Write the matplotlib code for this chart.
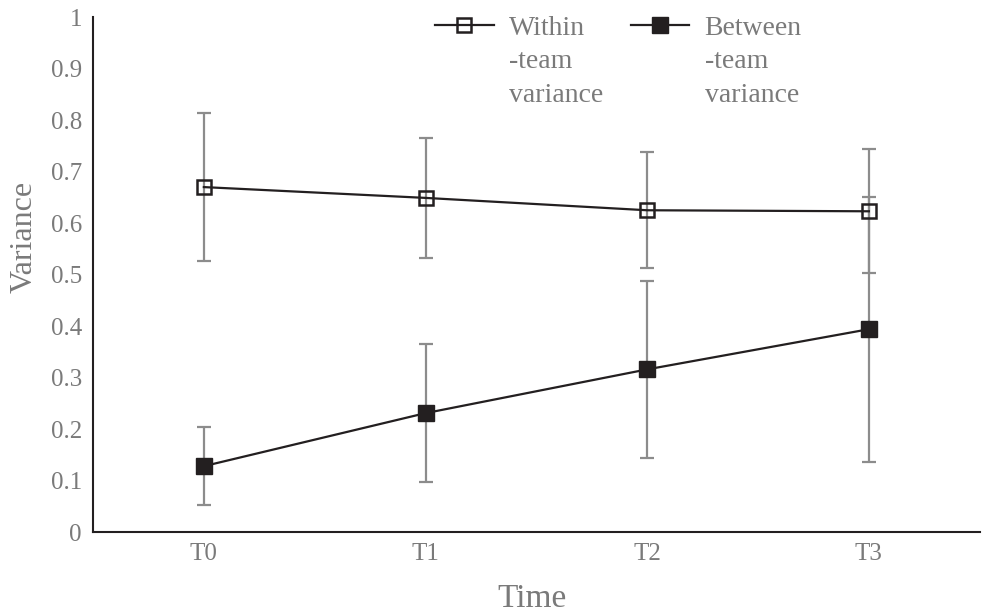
import matplotlib
matplotlib.use("Agg")
import matplotlib.pyplot as plt
import numpy as np

matplotlib.rcParams.update({
    "font.family": "serif",
    "font.serif": ["Liberation Serif", "DejaVu Serif"],
})

# ---------------------------------------------------------------------------
# Data
# ---------------------------------------------------------------------------
times = ["T0", "T1", "T2", "T3"]
within_mean = [0.670, 0.649, 0.625, 0.623]
within_err = [0.144, 0.117, 0.113, 0.120]
between_mean = [0.128, 0.231, 0.316, 0.394]
between_err = [0.076, 0.134, 0.172, 0.257]

LINE_COLOR = "#231f20"
ERR_COLOR = "#8c8c8c"
TEXT_COLOR = "#7a7a7a"

fig = plt.figure(figsize=(9.82, 6.13), dpi=100)
ax = fig.add_axes([0.0947, 0.132, 0.903, 0.840])

x = np.arange(len(times))

ax.errorbar(x, within_mean, yerr=within_err, fmt="none", ecolor=ERR_COLOR,
            elinewidth=1.6, capsize=5, capthick=1.6, zorder=1)
ax.errorbar(x, between_mean, yerr=between_err, fmt="none", ecolor=ERR_COLOR,
            elinewidth=1.6, capsize=5, capthick=1.6, zorder=1)

ax.plot(x, within_mean, color=LINE_COLOR, lw=1.6, marker="s", markersize=10.5,
        markerfacecolor="none", markeredgecolor=LINE_COLOR, markeredgewidth=1.8,
        label="Within\n-team\nvariance", zorder=3)
ax.plot(x, between_mean, color=LINE_COLOR, lw=1.6, marker="s", markersize=11.5,
        markerfacecolor=LINE_COLOR, markeredgecolor=LINE_COLOR,
        label="Between\n-team\nvariance", zorder=3)

ax.set_xlim(-0.5, 3.5)
ax.set_ylim(0, 1)
ax.set_xticks(x)
ax.set_xticklabels(times)
ax.set_yticks(np.arange(0, 1.01, 0.1))
ax.set_yticklabels(["0"] + [f"{v:.1f}" for v in np.arange(0.1, 0.95, 0.1)] + ["1"])
ax.tick_params(axis="both", length=0, labelsize=18, labelcolor=TEXT_COLOR)
ax.tick_params(axis="y", pad=8)
ax.tick_params(axis="x", pad=8)

for side in ("top", "right"):
    ax.spines[side].set_visible(False)
for side in ("left", "bottom"):
    ax.spines[side].set_color(LINE_COLOR)
    ax.spines[side].set_linewidth(1.5)

ax.set_ylabel("Variance", fontsize=23, color=TEXT_COLOR)
ax.yaxis.set_label_coords(-0.061, 0.573)
ax.set_xlabel("Time", fontsize=24, color=TEXT_COLOR)
ax.xaxis.set_label_coords(0.495, -0.10)

leg = ax.legend(loc="upper left", bbox_to_anchor=(0.386, 1.003), ncol=2,
                frameon=False, fontsize=20, handlelength=2.1,
                handletextpad=0.55, columnspacing=1.0,
                borderpad=0, borderaxespad=0)
for t in leg.get_texts():
    t.set_color(TEXT_COLOR)
    t.set_linespacing(1.45)
# put the legend symbols next to the first line of each label
for col in leg._legend_handle_box.get_children():
    for row in col.get_children():
        row.align = "top"

fig.savefig("out.png", dpi=100)
